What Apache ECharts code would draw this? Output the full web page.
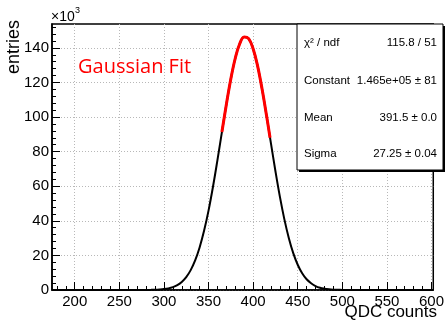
<!DOCTYPE html>
<html>
<head>
<meta charset="utf-8">
<script src="https://cdn.jsdelivr.net/npm/echarts@6/dist/echarts.min.js"></script>
<style>
html,body{margin:0;padding:0;background:#fff;}
#c{width:447px;height:323px;}
</style>
</head>
<body>
<div id="c"></div>
<script>
// ---- data (y in units of 10^3 entries) ----
const histX = [175, 270, 275, 280, 285, 290, 295, 300, 305, 310, 315, 320, 325, 330, 335, 340, 345, 350, 355, 360, 365, 370, 375, 380, 385, 390, 395, 400, 405, 410, 415, 420, 425, 430, 435, 440, 445, 450, 455, 460, 465, 470, 475, 480, 485, 490, 495, 500, 505, 510, 515, 602];
const histY = [0, 0, 0.01, 0.03, 0.07, 0.14, 0.28, 0.52, 0.95, 1.67, 2.85, 4.69, 7.46, 11.5, 17.1, 24.6, 34.2, 45.9, 59.7, 75.1, 91.3, 107.3, 122.0, 134.0, 142.4, 146.3, 145.3, 139.5, 129.6, 116.3, 101.0, 84.8, 68.8, 54.0, 41.0, 30.1, 21.3, 14.6, 9.7, 6.2, 3.9, 2.3, 1.3, 0.75, 0.41, 0.21, 0.11, 0.05, 0.02, 0.01, 0, 0];
const fitX = [365, 370, 375, 380, 385, 390, 395, 400, 405, 410, 415, 419];
const fitY = [91.3, 107.3, 122.0, 134.0, 142.4, 146.3, 145.3, 139.5, 129.6, 116.3, 101.0, 88.0];
const xMajorTicks = [200, 250, 300, 350, 400, 450, 500, 550, 600];
const xMinorTicks = [180, 190, 210, 220, 230, 240, 260, 270, 280, 290, 310, 320, 330, 340, 360, 370, 380, 390, 410, 420, 430, 440, 460, 470, 480, 490, 510, 520, 530, 540, 560, 570, 580, 590];
const yMajorTicks = [0, 20, 40, 60, 80, 100, 120, 140];
const yMinorTicks = [4, 8, 12, 16, 24, 28, 32, 36, 44, 48, 52, 56, 64, 68, 72, 76, 84, 88, 92, 96, 104, 108, 112, 116, 124, 128, 132, 136, 144, 148, 152];
const statNames = ['χ² / ndf', 'Constant', 'Mean', 'Sigma'];
const statValues = ['115.8 / 51', '1.465e+05 ± 81', '391.5 ± 0.0', '27.25 ± 0.04'];
const xTitle = 'QDC counts';
const yTitle = 'entries';
const fitLabel = 'Gaussian Fit';

const X_MIN = 174.5, X_MAX = 602, Y_MIN = 0, Y_MAX = 153.8;
const FONT = 'Liberation Sans, Arial, Helvetica, sans-serif';

const zip = (a, b) => a.map((v, i) => [v, b[i]]);

const chart = echarts.init(document.getElementById('c'), null, {renderer: 'canvas'});

const G = {left: 52, top: 24, right: 436, bottom: 290};
const box = {x: 297, y: 24, w: 146, h: 146};
const rowY = [43, 81, 118, 154];

const graphics = [];
graphics.push({type: 'rect', z: 100, shape: {x: box.x + 2, y: box.y + 2, width: box.w, height: box.h}, style: {fill: '#000'}});
graphics.push({type: 'rect', z: 101, shape: {x: box.x, y: box.y, width: box.w, height: box.h}, style: {fill: '#fff', stroke: '#000', lineWidth: 1}});
statNames.forEach((n, i) => {
  graphics.push({type: 'text', z: 102, x: 304, y: rowY[i], style: {text: n, font: '11.5px ' + FONT, fill: '#000', textAlign: 'left', align: 'left', textVerticalAlign: 'middle', verticalAlign: 'middle'}});
  graphics.push({type: 'text', z: 102, x: 437, y: rowY[i], style: {text: statValues[i], font: '11.5px ' + FONT, fill: '#000', textAlign: 'right', align: 'right', textVerticalAlign: 'middle', verticalAlign: 'middle'}});
});
graphics.push({type: 'text', z: 50, x: 51, y: 17, style: {text: '×10', font: '14px ' + FONT, fill: '#000', textAlign: 'left', align: 'left', textVerticalAlign: 'middle', verticalAlign: 'middle'}});
graphics.push({type: 'text', z: 50, x: 75, y: 11, style: {text: '3', font: '9px ' + FONT, fill: '#000', textAlign: 'left', align: 'left', textVerticalAlign: 'middle', verticalAlign: 'middle'}});
graphics.push({type: 'text', z: 50, x: 14, y: 20, rotation: Math.PI / 2, style: {text: yTitle, font: '18px ' + FONT, fill: '#000', textAlign: 'right', align: 'right', textVerticalAlign: 'middle', verticalAlign: 'middle'}});
graphics.push({type: 'text', z: 50, x: 437, y: 312, style: {text: xTitle, font: '17px ' + FONT, fill: '#000', textAlign: 'right', align: 'right', textVerticalAlign: 'middle', verticalAlign: 'middle'}});
graphics.push({type: 'text', z: 50, x: 78, y: 67, style: {text: fitLabel, font: '20px "Open Sans", sans-serif', fill: '#ff0000', textAlign: 'left', align: 'left', textVerticalAlign: 'middle', verticalAlign: 'middle'}});

const gridLine = {show: true, lineStyle: {color: '#b8b8b8', type: [1, 2], width: 1}};

const option = {
  animation: false,
  backgroundColor: '#fff',
  grid: {left: G.left, top: G.top, right: 447 - G.right, bottom: 323 - G.bottom, show: true, borderColor: '#000', borderWidth: 1.5, backgroundColor: 'transparent'},
  xAxis: [
    {
      type: 'value', min: X_MIN, max: X_MAX, splitNumber: 9, position: 'bottom',
      axisLine: {show: true, onZero: false, lineStyle: {color: '#000', width: 1.5}},
      axisTick: {show: true, inside: true, length: 8, customValues: xMajorTicks, lineStyle: {color: '#000', width: 1}},
      axisLabel: {show: true, customValues: xMajorTicks, margin: 4, color: '#000', fontSize: 15, fontFamily: FONT},
      splitLine: gridLine
    },
    {
      type: 'value', min: X_MIN, max: X_MAX, position: 'bottom', offset: 0,
      axisLine: {show: false, onZero: false},
      axisTick: {show: true, inside: true, length: 4, customValues: xMinorTicks, lineStyle: {color: '#000', width: 1}},
      axisLabel: {show: false},
      splitLine: {show: false}
    }
  ],
  yAxis: [
    {
      type: 'value', min: Y_MIN, max: Y_MAX, interval: 20, position: 'left',
      axisLine: {show: true, onZero: false, lineStyle: {color: '#000', width: 1.5}},
      axisTick: {show: true, inside: true, length: 8, customValues: yMajorTicks, lineStyle: {color: '#000', width: 1}},
      axisLabel: {show: true, customValues: yMajorTicks, margin: 3, color: '#000', fontSize: 15, fontFamily: FONT},
      splitLine: gridLine
    },
    {
      type: 'value', min: Y_MIN, max: Y_MAX, position: 'left', offset: 0,
      axisLine: {show: false, onZero: false},
      axisTick: {show: true, inside: true, length: 4, customValues: yMinorTicks, lineStyle: {color: '#000', width: 1}},
      axisLabel: {show: false},
      splitLine: {show: false}
    }
  ],
  series: [
    {
      type: 'line', xAxisIndex: 0, yAxisIndex: 0, data: zip(histX, histY),
      showSymbol: false, symbol: 'none', smooth: 0.4,
      lineStyle: {color: '#000', width: 2}, z: 3
    },
    {
      type: 'line', xAxisIndex: 0, yAxisIndex: 0, data: zip(fitX, fitY),
      showSymbol: false, symbol: 'none', smooth: 0.4,
      lineStyle: {color: '#ff0000', width: 3}, z: 4
    }
  ],
  graphic: graphics
};
chart.setOption(option);
</script>
</body>
</html>
